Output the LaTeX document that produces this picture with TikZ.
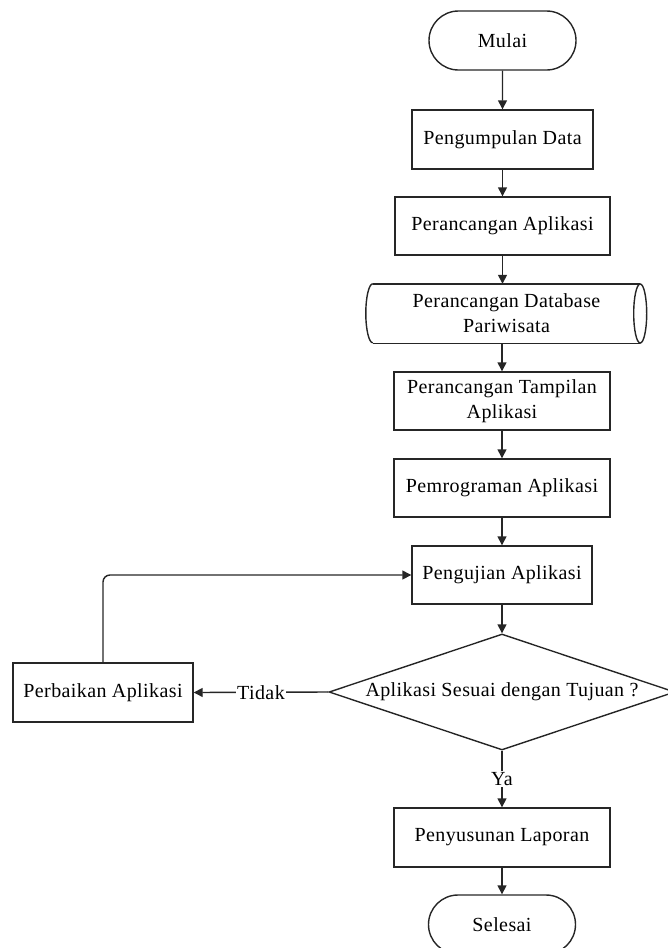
\documentclass[tikz,border=0pt]{standalone}
\usepackage{fontspec}
\setmainfont{Liberation Serif}[LetterSpace=2]
\usetikzlibrary{shapes.geometric,shapes.misc,arrows.meta}
\begin{document}
\begin{tikzpicture}[x=1pt,y=-1pt,
  every node/.style={font=\fontsize{20}{25}\selectfont, text=black},
  line/.style={draw=black!85, line width=1.4pt},
  arr/.style={line, -{Triangle[length=9pt,width=9pt]}},
  procbox/.style={line, rectangle, inner sep=2pt, align=center},
  term/.style={line, rounded rectangle, minimum width=147pt, minimum height=59pt, inner sep=0pt},
  decision/.style={line, diamond, aspect=2.9, inner sep=0pt, minimum width=346pt, minimum height=116pt}
]
\useasboundingbox (0,0) rectangle (667,948);

\node[term] (start) at (502.5,40.5) {Mulai};
\node[procbox, minimum width=181pt, minimum height=59pt] (n1) at (502.5,139.5) {Pengumpulan Data};
\node[procbox, minimum width=215pt, minimum height=58pt] (n2) at (502.5,226) {Perancangan Aplikasi};
\node[rectangle, minimum width=267pt, minimum height=59pt, inner sep=0pt, align=center] (db) at (506.5,313.5) {Perancangan Database\\Pariwisata};
\draw[line] (db.north west) -- (db.north east);
\draw[line] (db.south west) -- (db.south east);
\draw[line] (db.east) ellipse [x radius=6.5pt, y radius=29.5pt];
\draw[line] (db.north west) arc [start angle=90, end angle=270, x radius=7pt, y radius=29.5pt];
\node[procbox, minimum width=216pt, minimum height=58pt] (n3) at (502,401) {Perancangan Tampilan\\Aplikasi};
\node[procbox, minimum width=216pt, minimum height=58pt] (n4) at (502,488) {Pemrograman Aplikasi};
\node[procbox, minimum width=180pt, minimum height=58pt] (n5) at (502,575) {Pengujian Aplikasi};
\node[decision] (dec) at (502,692) {Aplikasi Sesuai dengan Tujuan ?};
\node[procbox, minimum width=180pt, minimum height=59pt] (fix) at (103,692.5) {Perbaikan Aplikasi};
\node[procbox, minimum width=216pt, minimum height=59pt] (n6) at (502,837.5) {Penyusunan Laporan};
\node[term] (stop) at (502,924.5) {Selesai};

\draw[arr] (start) -- (n1);
\draw[arr] (n1) -- (n2);
\draw[arr] (n2.south) -- (n2.south |- db.north);
\draw[arr] (n3.north |- db.south) -- (n3.north);
\draw[arr] (n3) -- (n4);
\draw[arr] (n4) -- (n5);
\draw[arr] (n5) -- (dec);
\draw[arr] (dec.west) -- node[fill=white, inner sep=1pt] (tidak) {Tidak} (fix.east);
\draw[arr, rounded corners=7pt] (fix.north) |- (n5.west);
\draw[arr] (dec.south) -- node[fill=white, inner sep=1pt] (ya) {Ya} (n6.north);
\draw[arr] (n6) -- (stop);
\end{tikzpicture}
\end{document}
